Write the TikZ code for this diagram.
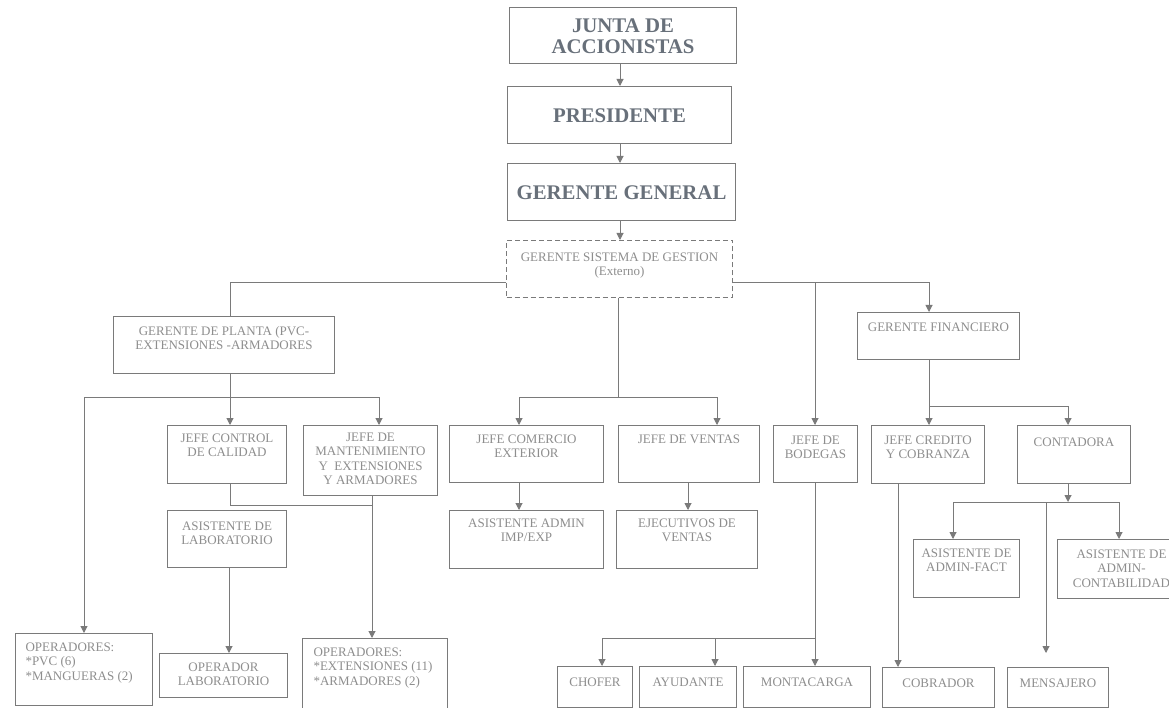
\documentclass[tikz,border=0pt]{standalone}
\usepackage{fontspec}
\setmainfont{Liberation Serif}
\usetikzlibrary{arrows.meta}
\definecolor{lncol}{HTML}{7A7A7A}
\definecolor{txcol}{HTML}{8E8E8E}
\definecolor{btcol}{HTML}{68707A}
\newcommand\bx[8]{\node[#1, anchor=north west, inner sep=0pt, minimum width=#5pt, minimum height=#6pt] (#2) at (#3,#4) {\begin{minipage}[t][#6pt][t]{#5pt}\centering\rule{0pt}{#7pt}#8\end{minipage}};}
\tikzset{
  box/.style={draw=lncol, line width=1pt, text=txcol, font=\fontsize{13}{14.4}\selectfont},
  bbox/.style={draw=lncol, line width=1pt, text=btcol, font=\fontsize{20.8}{21}\selectfont\bfseries},
  dbox/.style={box, dash pattern=on 5pt off 3pt},
  conn/.style={draw=lncol, line width=1pt},
  arr/.style={conn, -{Triangle[width=7pt,length=7pt]}}
}
\begin{document}
\begin{tikzpicture}[x=1pt,y=-1pt]
\useasboundingbox[fill=white] (0,0) rectangle (1169,708);
% top chain
\bx{bbox}{junta}{509}{7}{227}{56}{25}{JUNTA DE\\ACCIONISTAS}
\bx{bbox}{pres}{507}{86}{224}{57}{36}{PRESIDENTE}
\bx{bbox}{gg}{507}{163}{228}{57}{36}{GERENTE GENERAL}
\bx{dbox}{gsg}{506}{240}{226}{57}{21}{GERENTE SISTEMA DE GESTION\\(Externo)}
% second level
\bx{box}{gp}{113}{316}{221}{57}{19}{GERENTE DE PLANTA (PVC-\\EXTENSIONES -ARMADORES}
\bx{box}{gf}{857}{312}{162}{47}{19}{GERENTE FINANCIERO}
% third level
\bx{box}{jcc}{167}{425}{119}{58}{17}{JEFE CONTROL\\DE CALIDAD}
\bx{box}{jm}{303}{425}{134}{70}{16}{JEFE DE\\MANTENIMIENTO\\Y\ \ EXTENSIONES\\Y ARMADORES}
\bx{box}{jce}{449}{425}{154}{57}{18}{JEFE COMERCIO\\EXTERIOR}
\bx{box}{jv}{618}{425}{141}{57}{18}{JEFE DE VENTAS}
\bx{box}{jb}{773}{425}{84}{57}{19}{JEFE DE\\BODEGAS}
\bx{box}{jcr}{871}{425}{113}{58}{19}{JEFE CREDITO\\Y COBRANZA}
\bx{box}{cont}{1017}{425}{113}{58}{21}{CONTADORA}
% fourth level
\bx{box}{asl}{167}{510}{119}{57}{20}{ASISTENTE DE\\LABORATORIO}
\bx{box}{aai}{449}{510}{154}{58}{17}{ASISTENTE ADMIN\\IMP/EXP}
\bx{box}{ejv}{616}{510}{141}{58}{17}{EJECUTIVOS DE\\VENTAS}
\bx{box}{aaf}{913}{539}{106}{58}{18}{ASISTENTE DE\\ADMIN-FACT}
\bx{box}{aac}{1057}{539}{128}{59}{19}{ASISTENTE DE\\ADMIN-\\CONTABILIDAD}
% bottom level
\bx{box}{op1}{15}{633}{137}{72}{18}{\raggedright\leftskip=10pt OPERADORES:\\{}*PVC (6)\\{}*MANGUERAS (2)}
\bx{box}{opl}{159}{653}{128}{44}{18}{OPERADOR\\LABORATORIO}
\bx{box}{op2}{302}{638}{145}{74}{18}{\raggedright\leftskip=11pt OPERADORES:\\{}*EXTENSIONES (11)\\{}*ARMADORES (2)}
\bx{box}{chofer}{557}{666}{75}{41}{20}{CHOFER}
\bx{box}{ayud}{639}{666}{97}{41}{20}{AYUDANTE}
\bx{box}{monta}{743}{666}{127}{41}{20}{MONTACARGA}
\bx{box}{cobr}{882}{667}{112}{40}{20}{COBRADOR}
\bx{box}{mens}{1007}{667}{101}{40}{20}{MENSAJERO}
% connectors: top chain
\coordinate (cx) at (620,0);
\draw[arr] (cx |- junta.south) -- (cx |- pres.north);
\draw[arr] (cx |- pres.south) -- (cx |- gg.north);
\draw[arr] (cx |- gg.south) -- (cx |- gsg.north);
% from GSG
\coordinate (hL) at (230,283);
\coordinate (hR) at (929,283);
\coordinate (hB) at (815,283);
\draw[conn] (gsg.west |- hL) -- (hL) -- (hL |- gp.north);
\draw[arr] (gsg.east |- hR) -- (hR) -- (hR |- gf.north);
\draw[arr] (hB) -- (hB |- jb.north);
\coordinate (m1) at (618,397);
\coordinate (m2) at (519,397);
\coordinate (m3) at (717,397);
\draw[conn] (m1 |- gsg.south) -- (m1);
\draw[arr] (m1) -- (m2) -- (m2 |- jce.north);
\draw[arr] (m1) -- (m3) -- (m3 |- jv.north);
% plant
\coordinate (p1) at (230,397);
\coordinate (p2) at (84,397);
\coordinate (p3) at (379,397);
\draw[conn] (p1 |- gp.south) -- (p1);
\draw[arr] (p1) -- (p1 |- jcc.north);
\draw[arr] (p1) -- (p3) -- (p3 |- jm.north);
\draw[arr] (p1) -- (p2) -- (p2 |- op1.north);
\coordinate (q1) at (230,505);
\coordinate (q2) at (372,505);
\draw[conn] (q1 |- jcc.south) -- (q1) -- (q2);
\draw[arr] (q2 |- jm.south) -- (q2 |- op2.north);
\coordinate (r1) at (229,0);
\draw[arr] (r1 |- asl.south) -- (r1 |- opl.north);
\draw[arr] (m2 |- jce.south) -- (m2 |- aai.north);
\coordinate (v1) at (688,0);
\draw[arr] (v1 |- jv.south) -- (v1 |- ejv.north);
% bodegas
\coordinate (b1) at (815,638);
\coordinate (b2) at (602,638);
\coordinate (b3) at (715,638);
\draw[arr] (b1 |- jb.south) -- (b1 |- monta.north);
\draw[arr] (b1) -- (b2) -- (b2 |- chofer.north);
\draw[arr] (b3) -- (b3 |- ayud.north);
% finance
\coordinate (f1) at (929,406);
\coordinate (f2) at (1068,406);
\draw[conn] (f1 |- gf.south) -- (f1);
\draw[arr] (f1) -- (f1 |- jcr.north);
\draw[arr] (f1) -- (f2) -- (f2 |- cont.north);
\coordinate (c0) at (898,0);
\draw[arr] (c0 |- jcr.south) -- (c0 |- cobr.north);
\coordinate (k1) at (1068,502);
\coordinate (k2) at (953,502);
\coordinate (k3) at (1119,502);
\coordinate (k4) at (1046,502);
\coordinate (k5) at (1046,653);
\draw[arr] (k1 |- cont.south) -- (k1);
\draw[conn] (k2) -- (k3);
\draw[arr] (k2) -- (k2 |- aaf.north);
\draw[arr] (k3) -- (k3 |- aac.north);
\draw[arr] (k4) -- (k5);
\end{tikzpicture}
\end{document}
